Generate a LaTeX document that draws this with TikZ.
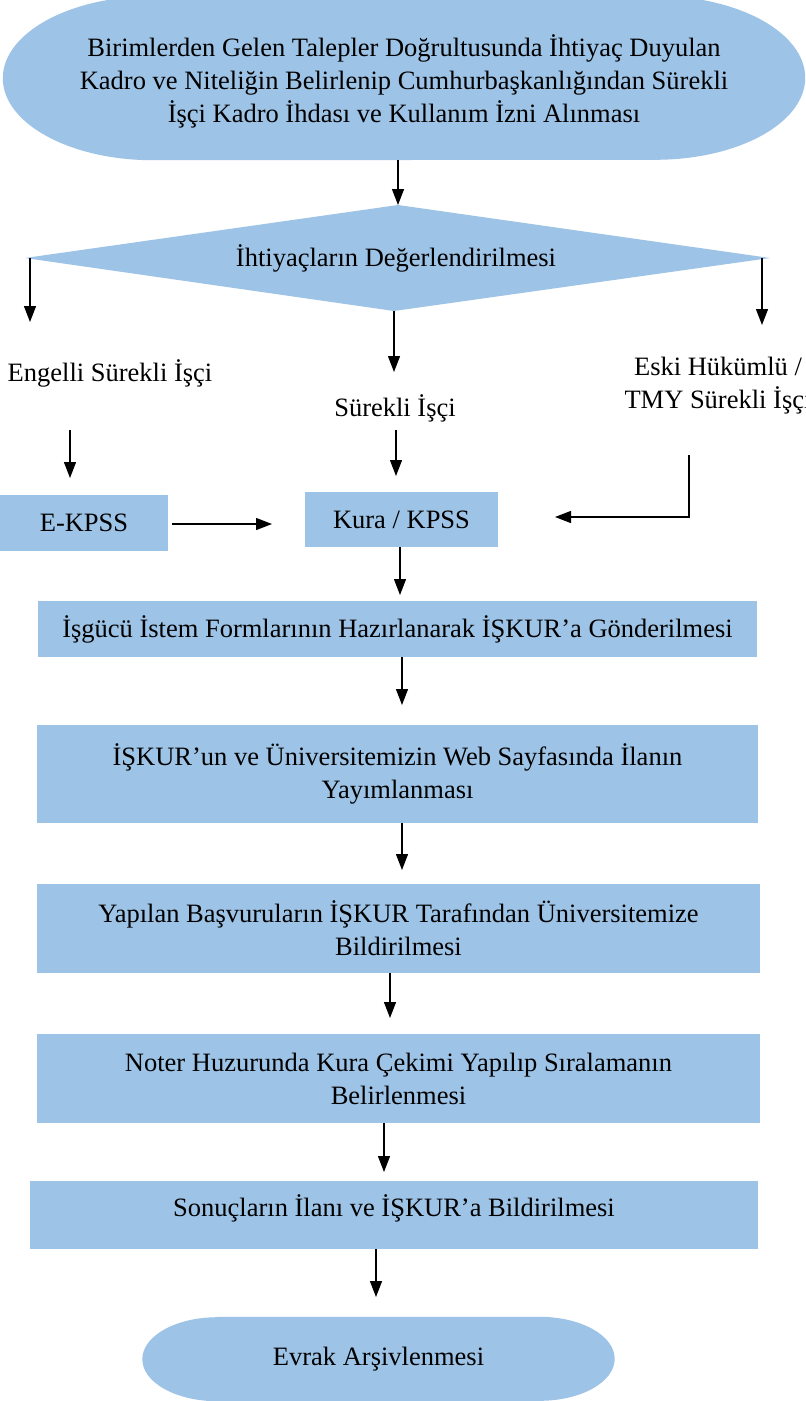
\documentclass[tikz,border=0pt]{standalone}
\usepackage{fontspec}
\setmainfont{Liberation Serif}
\usetikzlibrary{arrows.meta,backgrounds}
\definecolor{boxblue}{HTML}{9DC3E6}
\tikzset{
  txt/.style={font=\fontsize{26.5}{33}\selectfont, align=center, inner sep=0pt},
  box/.style={txt, fill=boxblue},
  arr/.style={line width=1.3pt, -{Triangle[length=16pt,width=12pt]}},
  ln/.style={line width=1.3pt}
}
\newcommand{\stadiumfill}[3]{%
  \fill[boxblue] ([xshift=#2]#1.north west) -- ([xshift=-#2]#1.north east)
    arc[start angle=90,end angle=-90,x radius=#2,y radius=#3]
    -- ([xshift=#2]#1.south west)
    arc[start angle=270,end angle=90,x radius=#2,y radius=#3] -- cycle;}
\begin{document}
\begin{tikzpicture}[x=1pt,y=-1pt]
\useasboundingbox (0,0) rectangle (806,1401);
% top terminal
\node[inner sep=0pt, minimum width=802pt, minimum height=164pt] (top) at (404,78) {};
\node[txt] (toptext) at (404,81)
  {Birimlerden Gelen Talepler Doğrultusunda İhtiyaç Duyulan\\
   Kadro ve Niteliğin Belirlenip Cumhurbaşkanlığından Sürekli\\
   İşçi Kadro İhdası ve Kullanım İzni Alınması};
% diamond
\coordinate (dtop) at (398,205);
\coordinate (dleft) at (25,258);
\coordinate (dright) at (770,258);
\coordinate (dbot) at (394,311);
\node[txt] (dia) at (396,258) {İhtiyaçların Değerlendirilmesi};
% labels
\node[txt] (engelli) at (110,373) {Engelli Sürekli İşçi};
\node[txt] (surekli) at (395,408) {Sürekli İşçi};
\node[txt] (eski) at (718,386) {Eski Hükümlü /\\TMY Sürekli İşçi};
% boxes
\node[box, minimum width=168pt, minimum height=56pt] (ekpss) at (84,523) {E-KPSS};
\node[box, minimum width=193pt, minimum height=55pt] (kura) at (401.5,519.5) {Kura / KPSS};
\node[box, minimum width=719pt, minimum height=56pt] (isgucu) at (397.5,629) {İşgücü İstem Formlarının Hazırlanarak İŞKUR’a Gönderilmesi};
\node[box, minimum width=721pt, minimum height=98pt] (web) at (397.5,774) {İŞKUR’un ve Üniversitemizin Web Sayfasında İlanın\\Yayımlanması};
\node[box, minimum width=723pt, minimum height=89pt] (yapilan) at (398.5,928.5) {Yapılan Başvuruların İŞKUR Tarafından Üniversitemize\\Bildirilmesi};
\node[box, minimum width=723pt, minimum height=89pt] (noter) at (398.5,1078.5) {Noter Huzurunda Kura Çekimi Yapılıp Sıralamanın\\Belirlenmesi};
\node[box, minimum width=728pt, minimum height=68pt, text depth=18pt] (sonuc) at (394,1215) {Sonuçların İlanı ve İŞKUR’a Bildirilmesi};
\node[txt, minimum width=472pt, minimum height=84pt] (evrak) at (378.5,1359) {Evrak Arşivlenmesi};
\begin{scope}[on background layer]
  \stadiumfill{top}{150pt}{82pt}
  \stadiumfill{evrak}{75pt}{42pt}
  \fill[boxblue] (dtop) -- (dright) -- (dbot) -- (dleft) -- cycle;
\end{scope}
% connector points
\coordinate (tb) at (398,160);
\coordinate (l1) at (30,258);  \coordinate (l2) at (30,322);
\coordinate (r1) at (762,258); \coordinate (r2) at (762,325);
\coordinate (m2) at (394,372);
\coordinate (e1) at (70,430);  \coordinate (e2) at (70,478);
\coordinate (s1) at (396,430); \coordinate (s2) at (396,476);
\coordinate (k1) at (172,524); \coordinate (k2) at (272,524);
\coordinate (t1) at (689,455); \coordinate (t2) at (689,517); \coordinate (t3) at (555,517);
\draw[arr] (tb) -- (dtop);
\draw[arr] (l1) -- (l2);
\draw[arr] (r1) -- (r2);
\draw[arr] (dbot) -- (m2);
\draw[arr] (e1) -- (e2);
\draw[arr] (s1) -- (s2);
\draw[arr] (k1) -- (k2);
\draw[arr] (t1) -- (t2) -- (t3);
\draw[arr] (kura.south -| 400,0) -- (400,595);
\draw[arr] (isgucu.south -| 402,0) -- (402,705);
\draw[arr] (web.south -| 402,0) -- (402,870);
\draw[arr] (yapilan.south -| 390,0) -- (390,1018);
\draw[arr] (noter.south -| 384,0) -- (384,1172);
\draw[arr] (sonuc.south -| 376,0) -- (376,1297);
\end{tikzpicture}
\end{document}
